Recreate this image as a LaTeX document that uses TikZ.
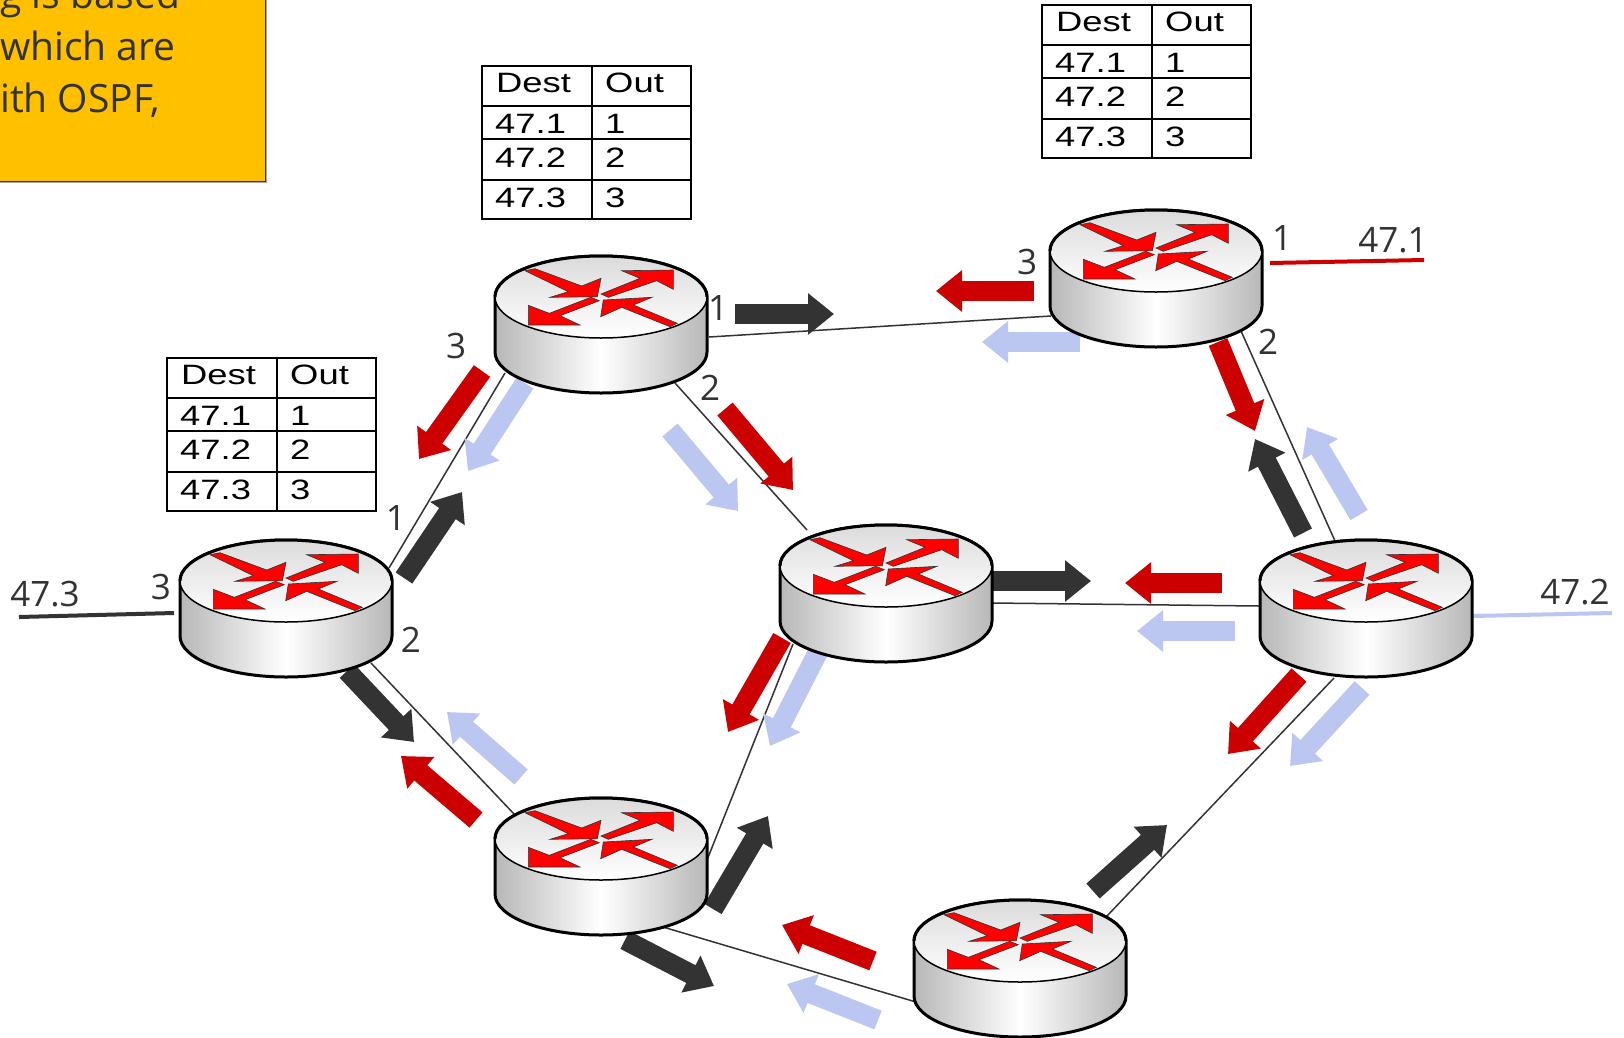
\documentclass[tikz,border=0pt]{standalone}
\usepackage{fontspec}
\setmainfont{Open Sans}
\newfontfamily\tablefont[FakeStretch=1.3]{Liberation Sans}
\usetikzlibrary{calc,arrows.meta,shapes.geometric}
\definecolor{ink}{HTML}{333333}
\definecolor{redflow}{HTML}{CC0000}
\definecolor{blueflow}{HTML}{BBC7F0}
\definecolor{notebox}{HTML}{FFC000}
\tikzset{
  link/.style={draw=ink,line width=1.5pt},
  feed/.style={line width=4pt},
  flow/.style={line width=20pt,-{Triangle[length=26pt,width=40pt]}},
  darkflow/.style={flow,draw=ink,color=ink},
  hotflow/.style={flow,draw=redflow,color=redflow},
  paleflow/.style={flow,draw=blueflow,color=blueflow},
  portlabel/.style={text=ink,font=\fontsize{35}{35}\selectfont,inner sep=0pt},
  notetext/.style={text=ink,font=\fontsize{39}{39}\selectfont,inner sep=0pt,anchor=base west},
  celltext/.style={text=black,font=\tablefont\fontsize{28}{28}\selectfont,inner sep=0pt,anchor=base west},
  grid/.style={draw=black,line width=2pt},
  routernode/.style={ellipse,minimum width=212pt,minimum height=137pt,inner sep=0pt},
  routerglyph/.style={fill=red,draw=ink,line width=.6pt},
}
\newcommand{\routerdraw}[3]{%
  \begin{scope}[shift={(#2,#3)}]
    \path[left color=black!28,right color=black!28,middle color=white,draw=black,line width=3pt]
      (-106,0) -- (-106,55) arc[start angle=180,end angle=360,x radius=106pt,y radius=41pt] -- (106,0)
      arc[start angle=0,end angle=180,x radius=106pt,y radius=41pt] -- cycle;
    \path[top color=black!14,bottom color=white,draw=black,line width=1.5pt]
      (0,0) ellipse[x radius=106pt,y radius=41pt];
    \draw[black,line width=3pt] (-106,0) arc[start angle=180,end angle=0,x radius=106pt,y radius=41pt];
    \filldraw[routerglyph] (-76,-26.3) -- (-66,-28.3) -- (-19.3,-11) -- (0,-18.7) -- (-3.7,-.3) -- (-51,.3) -- (-32.7,-5.3) -- cycle;
    \filldraw[routerglyph] (0,-3) -- (39,-18.7) -- (20.7,-26.3) -- (72.3,-27) -- (72.3,-7.7) -- (55.7,-16.3) -- (7.3,.3) -- cycle;
    \filldraw[routerglyph] (-10.3,.3) -- (-1.7,3.7) -- (-41,18.7) -- (-21,28) -- (-72.7,28) -- (-72.7,8.3) -- (-51.7,16.3) -- cycle;
    \filldraw[routerglyph] (76.3,26.3) -- (69,29.7) -- (20.7,10.3) -- (-.3,19.7) -- (2.3,3) -- (51,.3) -- (32.3,8) -- cycle;
    \node[routernode] (#1) at (0,27) {};
  \end{scope}}
\newcommand{\tabledraw}[3]{%
  \begin{scope}[shift={(#2,#3)}]
    \draw[grid] (0,0) rectangle (209,153);
    \draw[grid] (110,0) -- (110,153);
    \draw[grid] (0,40) -- (209,40);
    \draw[grid] (0,73) -- (209,73);
    \draw[grid] (0,114) -- (209,114);
    \node[celltext] (#1dest) at (14,26) {Dest};
    \node[celltext] (#1out) at (123,26) {Out};
    \node[celltext] (#1a) at (13,67) {47.1};
    \node[celltext] (#1ao) at (123,67) {1};
    \node[celltext] (#1b) at (13,101) {47.2};
    \node[celltext] (#1bo) at (123,101) {2};
    \node[celltext] (#1c) at (13,141) {47.3};
    \node[celltext] (#1co) at (123,141) {3};
  \end{scope}}
\begin{document}
\begin{tikzpicture}[x=1pt,y=-1pt]
\path[use as bounding box,fill=white] (0,0) rectangle (1624,1037);
\clip (0,0) rectangle (1624,1037);

% note box, cut off by the picture edge
\fill[black!35] (-10,-10) rectangle (267,183);
\filldraw[fill=notebox,draw=ink,line width=1.5pt] (-10,-10) rectangle (265.5,181.5);
\node[notetext] (noteA) at (0,8) {g is based};
\node[notetext] (noteB) at (0,60) {which are};
\node[notetext] (noteC) at (0,112) {ith OSPF,};

% nodes are placed first so connectors may refer to them
\path (601,324) node[routernode] (r1) {};
\path (286,608) node[routernode] (rl) {};
\path (886,593) node[routernode] (rc) {};
\path (1156,278) node[routernode] (rt) {};
\path (1366,608) node[routernode] (rr) {};
\path (601,866) node[routernode] (rb) {};
\path (1020,968) node[routernode] (rd) {};

\coordinate (net1) at (1424,260);
\coordinate (net3) at (19,617);
\coordinate (net2) at (1612,613);

% links
\draw[link] ($(r1)+(108,13)$) -- ($(rt)+(-105,38)$);
\draw[link] ($(r1)+(-96,49)$) -- ($(rl)+(103,-40)$);
\draw[link] ($(r1)+(74,59)$) -- ($(rc)+(-79,-63)$);
\draw[link] ($(rt)+(85,53)$) -- ($(rr)+(-31,-67)$);
\draw[link] ($(rc)+(106,10)$) -- ($(rr)+(-107,-2)$);
\draw[link] ($(rc)+(-93,51)$) -- ($(rb)+(106,-6)$);
\draw[link] ($(rl)+(85,55)$) -- ($(rb)+(-86,-51)$);
\draw[link] ($(rb)+(62,61)$) -- ($(rd)+(-104,34)$);
\draw[link] ($(rd)+(86,-51)$) -- ($(rr)+(-32,70)$);

% external feeds
\draw[feed,redflow] ($(rt)+(114,-15)$) -- (net1);
\draw[feed,ink] (net3) -- ($(rl)+(-112,5)$);
\draw[feed,blueflow] ($(rr)+(106,8)$) -- (net2);

% flow arrows: pale
\draw[paleflow] (525,383) -- (468,471);
\draw[paleflow] (670,430) -- (738,511);
\draw[paleflow] (1080,342) -- (982,342);
\draw[paleflow] (1359,515) -- (1307,427);
\draw[paleflow] (1235,631) -- (1137,631);
\draw[paleflow] (818,652) -- (770,746);
\draw[paleflow] (1362,688) -- (1290,766);
\draw[paleflow] (521,777) -- (447,712);
\draw[paleflow] (878,1020) -- (787,984);
% flow arrows: red
\draw[hotflow] (482,371) -- (419,459);
\draw[hotflow] (725,409) -- (793,490);
\draw[hotflow] (1034,291) -- (936,291);
\draw[hotflow] (1218,342) -- (1255,431);
\draw[hotflow] (1222,583) -- (1125,583);
\draw[hotflow] (782,638) -- (728,732);
\draw[hotflow] (1299,675) -- (1228,754);
\draw[hotflow] (476,820) -- (401,756);
\draw[hotflow] (873,961) -- (782,925);
% flow arrows: dark
\draw[darkflow] (735,314) -- (834,314);
\draw[darkflow] (404,578) -- (462,492);
\draw[darkflow] (347,671) -- (414,742);
\draw[darkflow] (1303,533) -- (1255,439);
\draw[darkflow] (992,581) -- (1091,581);
\draw[darkflow] (713,909) -- (768,816);
\draw[darkflow] (625,940) -- (714,986);
\draw[darkflow] (1093,891) -- (1167,825);

% routers
\routerdraw{router1}{601}{297}
\routerdraw{routerL}{286}{581}
\routerdraw{routerC}{886}{566}
\routerdraw{routerT}{1156}{251}
\routerdraw{routerR}{1366}{581}
\routerdraw{routerB}{601}{839}
\routerdraw{routerD}{1020}{941}

% tables
\tabledraw{tabA}{482}{66}
\tabledraw{tabB}{167}{358}
\tabledraw{tabC}{1042}{5}

% port labels
\node[portlabel] (p13) at (456,346) {3};
\node[portlabel] (p11) at (718,308) {1};
\node[portlabel] (p12) at (710,388) {2};
\node[portlabel] (pl1) at (396,518) {1};
\node[portlabel] (pl3) at (161,587) {3};
\node[portlabel] (pl2) at (411,640) {2};
\node[portlabel] (pt3) at (1027,262) {3};
\node[portlabel] (pt1) at (1282,238) {1};
\node[portlabel] (pt2) at (1268,342) {2};
\node[portlabel] (n471) at (1393,240) {47.1};
\node[portlabel] (n473) at (45,594) {47.3};
\node[portlabel] (n472) at (1575,592) {47.2};
\end{tikzpicture}
\end{document}
